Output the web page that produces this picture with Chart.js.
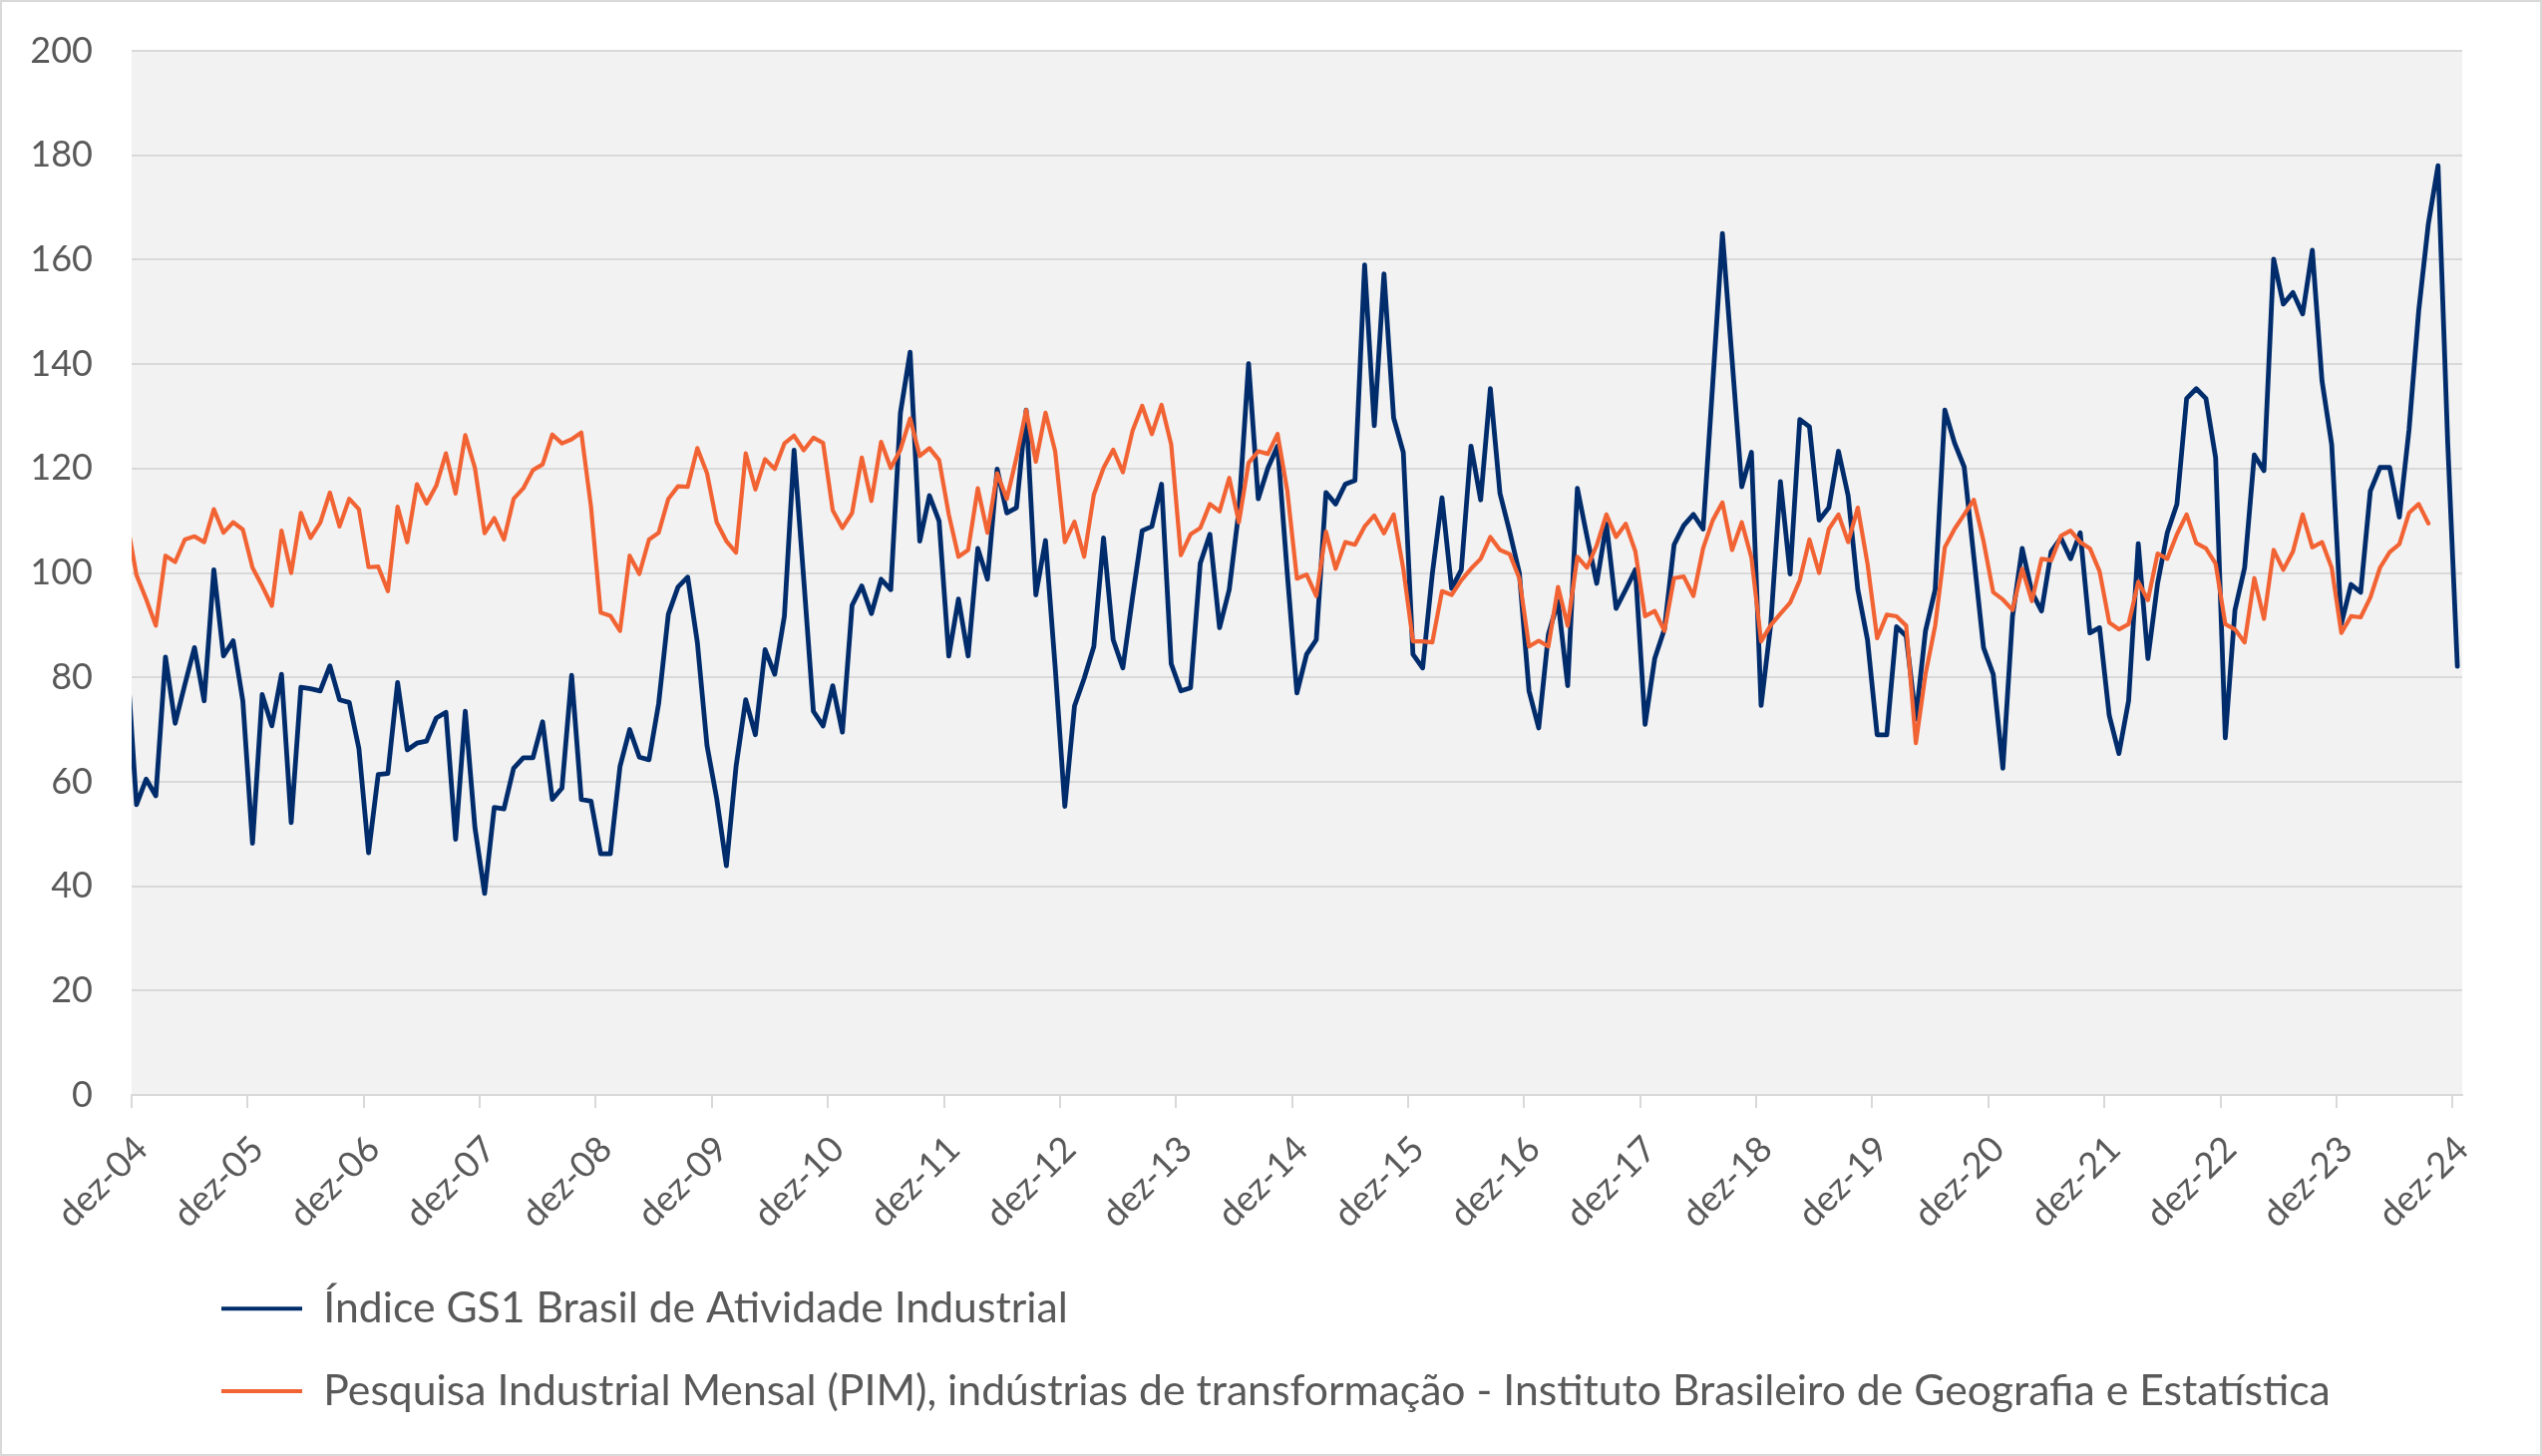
<!DOCTYPE html>
<html>
<head>
<meta charset="utf-8">
<script src="https://cdn.jsdelivr.net/npm/chart.js@4.4.1/dist/chart.umd.min.js"></script>
<style>
  html, body { margin: 0; padding: 0; background: #ffffff; }
  #wrap { width: 2549px; height: 1460px; position: relative; }
</style>
</head>
<body>
<div id="wrap"><canvas id="c"></canvas></div>
<script>
// ---- DATA ----
// Monthly points, first = nov-04 (clipped at the axis start), last = dez-24
const monthNames = ['jan','fev','mar','abr','mai','jun','jul','ago','set','out','nov','dez'];
const firstMonth = { year: 2004, month: 10 }; // nov-04 (0-based month)

const tickLabels = ['dez-04','dez-05','dez-06','dez-07','dez-08','dez-09','dez-10','dez-11','dez-12','dez-13','dez-14',
                    'dez-15','dez-16','dez-17','dez-18','dez-19','dez-20','dez-21','dez-22','dez-23','dez-24'];

const gs1 = [
  84, 55.6, 60.5, 57.3, 83.9, 71.2, 78.6, 85.7, 75.5, 100.6, 84.1, 87.0,
  75.5, 48.2, 76.7, 70.7, 80.6, 52.2, 78.1, 77.8, 77.4, 82.2, 75.7, 75.2,
  66.4, 46.4, 61.4, 61.6, 79.0, 66.1, 67.4, 67.8, 72.2, 73.3, 49.0, 73.5,
  51.2, 38.6, 55.1, 54.8, 62.6, 64.6, 64.6, 71.5, 56.6, 58.8, 80.4, 56.6,
  56.3, 46.2, 46.2, 62.9, 70.0, 64.7, 64.2, 75.0, 92.1, 97.3, 99.2, 86.7,
  66.9, 56.8, 43.9, 62.9, 75.7, 69.0, 85.3, 80.6, 91.7, 123.5, 98.8, 73.5,
  70.7, 78.4, 69.5, 93.8, 97.5, 92.2, 98.8, 96.8, 130.7, 142.3, 106.1, 114.8,
  109.9, 84.1, 95.0, 84.1, 104.7, 98.8, 119.9, 111.5, 112.5, 131.2, 95.8, 106.2,
  82, 55.3, 74.5, 79.8, 85.9, 106.7, 87.2, 81.8, 95.3, 108.1, 108.9, 117.0,
  82.6, 77.4, 78.0, 101.8, 107.4, 89.5, 96.8, 112, 140.1, 114.2, 120.1, 124.3,
  100, 77.0, 84.4, 87.2, 115.4, 113.2, 117.0, 117.7, 159.0, 128.2, 157.3, 129.7,
  123.1, 84.4, 81.8, 99.8, 114.4, 97.0, 100.6, 124.3, 114.0, 135.3, 115.2, 107.9,
  100.0, 77.4, 70.3, 88.2, 94.6, 78.4, 116.2, 106.9, 98.0, 109.4, 93.2, 96.8,
  100.6, 71.0, 83.6, 89.2, 105.4, 109.1, 111.2, 108.4, 136.3, 165.0, 140.8, 116.5,
  123.1, 74.6, 90.2, 117.5, 99.8, 129.4, 128.0, 110.1, 112.5, 123.3, 114.8, 96.8,
  87.2, 69.0, 69.0, 89.7, 87.9, 72.0, 88.9, 96.8, 131.2, 124.9, 120.3, 103.0,
  85.7, 80.6, 62.6, 91.7, 104.7, 96.3, 92.7, 104.1, 106.7, 102.7, 107.7, 88.5,
  89.5, 72.7, 65.4, 75.5, 105.6, 83.6, 98.0, 107.7, 113.2, 133.4, 135.3, 133.4,
  122.1, 68.4, 92.9, 101.0, 122.6, 119.6, 160.1, 151.5, 153.7, 149.6, 161.8, 136.8,
  124.6, 90.2, 97.8, 96.3, 115.7, 120.2, 120.2, 110.7, 127.4, 150.2, 166.9, 178.0,
  125, 82.1
];

const pim = [
  110, 99.6, 95.0, 89.9, 103.3, 102.1, 106.4, 107.0, 105.9, 112.2, 107.7, 109.7,
  108.3, 101.0, 97.5, 93.7, 108.1, 100.0, 111.5, 106.7, 109.6, 115.4, 108.9, 114.2,
  112.2, 101.1, 101.2, 96.5, 112.7, 105.9, 117.0, 113.3, 116.7, 122.9, 115.2, 126.4,
  120.1, 107.6, 110.5, 106.4, 114.2, 116.2, 119.7, 120.8, 126.5, 124.8, 125.6, 126.9,
  112.7, 92.4, 91.8, 88.9, 103.3, 99.8, 106.4, 107.7, 114.2, 116.6, 116.5, 123.9,
  119.1, 109.7, 106.1, 103.9, 122.9, 116.0, 121.8, 119.9, 124.8, 126.3, 123.5, 125.9,
  124.9, 112.0, 108.6, 111.5, 122.1, 113.8, 125.1, 120.1, 123.6, 129.6, 122.4, 123.9,
  121.6, 111.2, 103.1, 104.4, 116.2, 107.7, 119.1, 114.2, 122.1, 131.2, 121.3, 130.7,
  123.3, 105.9, 109.8, 103.1, 115.0, 120.1, 123.6, 119.3, 127.2, 132.0, 126.6, 132.2,
  124.6, 103.4, 107.4, 108.6, 113.2, 111.8, 118.2, 109.7, 121.1, 123.3, 122.8, 126.6,
  115.8, 98.9, 99.7, 95.6, 107.9, 100.8, 105.9, 105.4, 108.9, 111.0, 107.6, 111.2,
  100.8, 86.9, 86.9, 86.7, 96.5, 95.8, 98.6, 100.8, 102.7, 106.9, 104.4, 103.6,
  99.0, 85.9, 87.0, 85.9, 97.3, 89.9, 103.1, 101.0, 105.3, 111.2, 106.9, 109.4,
  104.1, 91.7, 92.7, 88.9, 99.0, 99.3, 95.6, 104.7, 110.1, 113.5, 104.4, 109.7,
  102.9, 86.9, 90.0, 92.2, 94.3, 98.6, 106.4, 100.0, 108.4, 111.2, 105.9, 112.5,
  101.8, 87.5, 92.0, 91.7, 89.9, 67.4, 80.6, 89.9, 104.9, 108.4, 111.2, 114.0,
  106.1, 96.3, 94.9, 92.9, 100.8, 94.6, 102.7, 102.4, 107.1, 108.1, 105.9, 104.7,
  100.3, 90.5, 89.2, 90.2, 98.3, 94.8, 103.7, 102.7, 107.4, 111.2, 105.7, 104.7,
  101.8, 90.2, 89.2, 86.7, 99.0, 91.2, 104.4, 100.6, 104.1, 111.2, 104.9, 105.9,
  101.0, 88.5, 91.7, 91.5, 95.3, 101, 104, 105.5, 111.5, 113.2, 109.5
];

const seriesNames = [
  'Índice GS1 Brasil de Atividade Industrial',
  'Pesquisa Industrial Mensal (PIM), indústrias de transformação - Instituto Brasileiro de Geografia e Estatística'
];

// ---- derived (categories and positions on a month axis: 0 = start of dez-04) ----
const months = gs1.map((_, i) => {
  const m = (firstMonth.month + i) % 12;
  const y = firstMonth.year + Math.floor((firstMonth.month + i) / 12);
  return monthNames[m] + '-' + String(y % 100).padStart(2, '0');
});
const monthPos = (i) => i - 0.5;              // points sit mid-month
const tickPositions = tickLabels.map((_, k) => k * 12);

const toPoints = (arr) => arr.map((v, i) => ({ x: monthPos(i), y: v, label: months[i] }));

// ---- plugins ----
const frame = {
  id: 'frame',
  beforeDraw(chart) {
    const { ctx, chartArea: a } = chart;
    ctx.save();
    ctx.fillStyle = '#ffffff';
    ctx.fillRect(0, 0, chart.width, chart.height);
    ctx.fillStyle = '#f2f2f2';
    ctx.fillRect(a.left, a.top, a.right - a.left, a.bottom - a.top);
    ctx.strokeStyle = '#d9d9d9';
    ctx.lineWidth = 2;
    ctx.strokeRect(1, 1, chart.width - 2, chart.height - 2);
    ctx.restore();
  }
};

const LEG_X = 222, LEG_Y = 1291;
const legendPlace = {
  id: 'legendPlace',
  afterLayout(chart) {
    const l = chart.legend;
    const pad = l.options.labels.padding;
    l.left = LEG_X - pad;
    l.top = LEG_Y - pad;
    l.right = chart.width;
    l.bottom = chart.height + 200;
    l.width = l.right - l.left;
    l.height = l.bottom - l.top;
  }
};

function build() {
  Chart.defaults.font.family = 'Lato';
  Chart.defaults.color = '#595959';
  new Chart(document.getElementById('c'), {
    type: 'line',
    data: {
      datasets: [
        {
          label: seriesNames[0],
          data: toPoints(gs1),
          borderColor: '#002C6C',
          backgroundColor: '#002C6C',
          borderWidth: 4.8,
          pointRadius: 0,
          tension: 0,
          borderJoinStyle: 'round',
          borderCapStyle: 'round',
          clip: 0,
          order: 1
        },
        {
          label: seriesNames[1],
          data: toPoints(pim),
          borderColor: '#F26334',
          backgroundColor: '#F26334',
          borderWidth: 4.2,
          pointRadius: 0,
          tension: 0,
          borderJoinStyle: 'round',
          borderCapStyle: 'round',
          clip: 0,
          order: 0
        }
      ]
    },
    options: {
      responsive: true,
      maintainAspectRatio: false,
      animation: false,
      devicePixelRatio: 1,
      events: [],
      layout: { padding: { left: 0, top: 51, right: 80, bottom: 212 } },
      scales: {
        x: {
          type: 'linear',
          min: 0,
          max: 241,
          afterBuildTicks: (scale) => { scale.ticks = tickPositions.map(v => ({ value: v })); },
          afterFit: (scale) => { scale.height = 150; },
          ticks: {
            autoSkip: false,
            minRotation: 45,
            maxRotation: 45,
            padding: 20,
            labelOffset: 10,
            font: { size: 36 },
            color: '#595959',
            callback: (v) => tickLabels[tickPositions.indexOf(v)] ?? ''
          },
          grid: { drawOnChartArea: false, drawTicks: true, tickLength: 13, color: '#d9d9d9', lineWidth: 2 },
          border: { display: true, color: '#d9d9d9', width: 2 }
        },
        y: {
          min: 0,
          max: 200,
          afterFit: (scale) => { scale.width = 132; },
          ticks: { stepSize: 20, padding: 19, font: { size: 36 }, color: '#595959' },
          grid: { color: '#d9d9d9', lineWidth: 2, drawTicks: true, tickLength: 20, tickColor: 'rgba(0,0,0,0)' },
          border: { display: false }
        }
      },
      plugins: {
        tooltip: { enabled: false },
        legend: {
          display: true,
          position: 'chartArea',
          align: 'start',
          labels: {
            font: { size: 42.7 },
            color: '#595959',
            padding: 40,
            boxWidth: 81,
            boxHeight: 4,
            sort: (a, b) => a.datasetIndex - b.datasetIndex,
            generateLabels: (chart) => {
              const items = Chart.defaults.plugins.legend.labels.generateLabels(chart);
              items.forEach(it => { it.fillStyle = it.strokeStyle; it.lineWidth = 0; });
              return items;
            }
          }
        }
      }
    },
    plugins: [frame, legendPlace]
  });
}

if (document.fonts && document.fonts.load) {
  Promise.all([document.fonts.load('36px Lato'), document.fonts.load('43px Lato')]).then(build, build);
} else {
  build();
}
</script>
</body>
</html>
